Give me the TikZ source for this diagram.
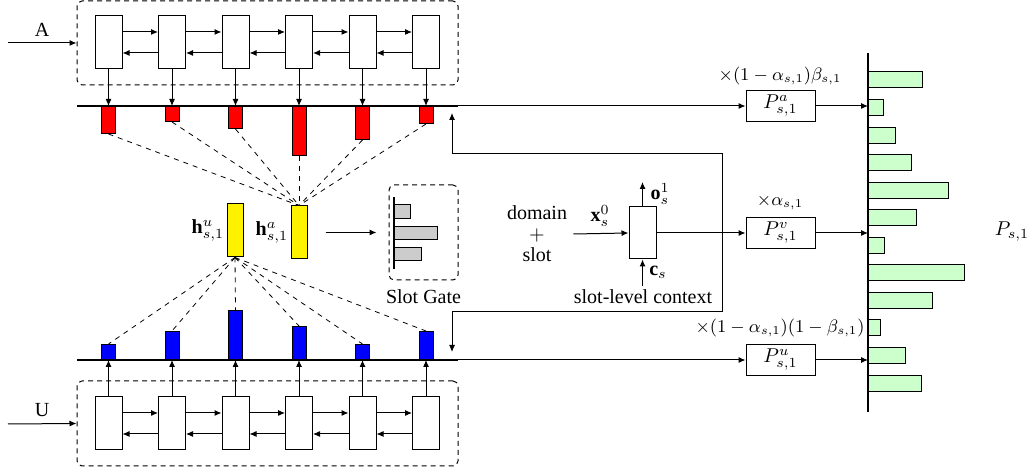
\documentclass[tikz,border=0pt]{standalone}
\usepackage{fontspec}
\setmainfont{Liberation Serif}
\usetikzlibrary{arrows.meta}
\begin{document}
\begin{tikzpicture}[x=0.5pt,y=-0.5pt,
  arr/.style={-{Latex[length=3.5pt,width=3pt]}, line width=0.5pt},
  cell/.style={draw, fill=white, minimum width=13.5pt, minimum height=26.5pt, inner sep=0pt, line width=0.5pt},
  dbox/.style={draw, dash pattern=on 2.5pt off 2pt, rounded corners=2.5pt, line width=0.5pt, inner sep=0pt},
  thickline/.style={line width=1.4pt},
  rbar/.style={draw, fill=red, minimum width=7pt, inner sep=0pt, anchor=north, line width=0.5pt},
  bbar/.style={draw, fill=blue, minimum width=7pt, inner sep=0pt, anchor=south, line width=0.5pt},
  ybar/.style={draw, fill=yellow, minimum width=8pt, minimum height=26.5pt, inner sep=0pt, line width=0.5pt},
  gbar/.style={draw, fill=black!20, line width=0.5pt},
  grbar/.style={draw, fill=green!20, line width=0.5pt},
  pbox/.style={draw, minimum width=34.5pt, minimum height=15.5pt, inner sep=0pt, line width=0.5pt},
  dline/.style={dash pattern=on 2.5pt off 2.5pt, line width=0.4pt},
  coef/.style={font=\fontsize{9}{11}\selectfont, inner sep=0pt},
]
\useasboundingbox (0,0) rectangle (1032,474);

% encoder boxes
\node[dbox, minimum width=190.5pt, minimum height=42pt] (abox) at (267.5,43) {};
\node[dbox, minimum width=190.5pt, minimum height=42.5pt] (ubox) at (267.5,423.5) {};
\foreach \i/\x in {1/108.5,2/172,3/235.5,4/299,5/362.5,6/426} {
  \node[cell] (a\i) at (\x,42.5) {};
  \node[cell] (u\i) at (\x,423.5) {};
}
\foreach \i/\j in {1/2,2/3,3/4,4/5,5/6} {
  \draw[arr] ([yshift=5.25pt]a\i.east) -- ([yshift=5.25pt]a\j.west);
  \draw[arr] ([yshift=-5.25pt]a\j.west) -- ([yshift=-5.25pt]a\i.east);
  \draw[arr] ([yshift=5.25pt]u\i.east) -- ([yshift=5.25pt]u\j.west);
  \draw[arr] ([yshift=-5.25pt]u\j.west) -- ([yshift=-5.25pt]u\i.east);
}

% inputs
\node (al) at (42,30) {A};
\coordinate (ain) at (8,43);
\draw[arr] (ain) -- (abox.west);
\node (ul) at (42,410) {U};
\coordinate (uin) at (8,424);
\draw[arr] (uin) -- (ubox.west);

% thick lines and bars
\coordinate (tl) at (77,106); \coordinate (tr) at (458,106);
\coordinate (bl) at (77,360); \coordinate (br) at (458,360);
\foreach \i/\h in {1/13.5,2/7.5,3/11,4/24.5,5/16.5,6/8.5}
  \node[rbar, minimum height=\h pt] (r\i) at (a\i.south |- tl) {};
\foreach \i/\h in {1/7.5,2/14,3/24.5,4/16.5,5/7.5,6/14}
  \node[bbar, minimum height=\h pt] (b\i) at (u\i.north |- bl) {};
\draw[thickline] (tl) -- (tr);
\draw[thickline] (bl) -- (br);
\foreach \i in {1,...,6} {
  \draw[arr] (a\i.south) -- (a\i.south |- tl);
  \draw[arr] (u\i.north) -- (u\i.north |- bl);
}

% attention vectors
\node[ybar] (hu) at (235,230.5) {};
\node[ybar] (ha) at (299,232.5) {};
\node[anchor=east, inner sep=1pt] (hul) at (hu.west) {$\mathbf{h}^u_{s,1}$};
\node[anchor=east, inner sep=1pt] (hal) at (ha.west) {$\mathbf{h}^a_{s,1}$};
\foreach \i in {1,...,6} {
  \draw[dline] (r\i.south) -- (ha.north);
  \draw[dline] (hu.south) -- (b\i.north);
}

% slot gate
\node[dbox, minimum width=34.5pt, minimum height=47.5pt] (sg) at (423.5,232.5) {};
\draw[gbar] (394,205) rectangle (410,219);
\draw[gbar] (394,227) rectangle (437,240);
\draw[gbar] (394,248) rectangle (421,261);
\draw[thickline] (394,197) -- (394,269);
\node (sgl) at (423.5,297) {Slot Gate};
\draw[arr] ([xshift=9pt]ha.east) -- ([xshift=-6pt]sg.west);

% decoder
\node[align=center, inner sep=3pt] (dom) at (537,234) {domain\\[-1.5pt]$+$\\[-1.5pt]slot};
\node[cell, minimum height=26pt] (g) at (642.5,233) {};
\draw[arr] (dom.east) -- (g.west);
\node (xl) at (600,216) {$\mathbf{x}_s^0$};
\coordinate (ot) at (642.5,182);
\draw[arr] (g.north) -- (ot);
\node (ol) at (660,194) {$\mathbf{o}_s^1$};
\coordinate (cb) at (642.5,286);
\draw[arr] (cb) -- (g.south);
\node (cl) at (658,272) {$\mathbf{c}_s$};
\node (slc) at (643,297) {slot-level context};

% context feedback
\coordinate (fat) at (452,113);
\coordinate (fa) at (452,154);
\coordinate (fb) at (722,154);
\coordinate (fc) at (722,312);
\coordinate (fd) at (452,312);
\coordinate (fdt) at (452,352);
\draw[{Latex[length=3.5pt,width=3pt]}-{Latex[length=3.5pt,width=3pt]}, line width=0.5pt] (fat) -- (fa) -- (fb) -- (fc) -- (fd) -- (fdt);

% distributions
\node[pbox] (pa) at (780.5,106) {$P^a_{s,1}$};
\node[pbox] (pv) at (780.5,233) {$P^v_{s,1}$};
\node[pbox] (pu) at (780.5,360) {$P^u_{s,1}$};
\draw[arr] (tr) -- (pa.west);
\draw[arr] (br) -- (pu.west);
\draw[arr] (g.east) -- (pv.west);
\node[coef] (la) at (780,76) {$\times(1-\alpha_{s,1})\beta_{s,1}$};
\node[coef] (lv) at (780,202) {$\times\alpha_{s,1}$};
\node[coef] (lu) at (780,328) {$\times(1-\alpha_{s,1})(1-\beta_{s,1})$};

\coordinate (axt) at (868,53);
\coordinate (axb) at (868,412);
\foreach \k/\w in {0/54,1/15,2/27,3/43,4/80,5/48,6/16,7/96,8/64,9/12,10/37,11/53}
  \draw[grbar] (868,{72+27.55*\k}) rectangle ({868+\w},{88+27.55*\k});
\draw[thickline] (axt) -- (axb);
\draw[arr] (pa.east) -- (pa.east -| axt);
\draw[arr] (pv.east) -- (pv.east -| axt);
\draw[arr] (pu.east) -- (pu.east -| axt);
\node (ps) at (1012,232) {$P_{s,1}$};
\end{tikzpicture}
\end{document}
